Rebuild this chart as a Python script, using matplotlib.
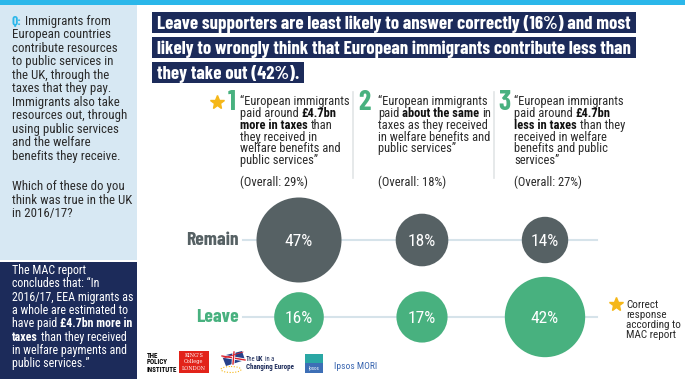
import matplotlib
matplotlib.use("Agg")
import matplotlib.pyplot as plt
from matplotlib.patches import Rectangle, Circle, Polygon, Ellipse

# ---------------- data ----------------
groups = ["Remain", "Leave"]
answers = ["1", "2", "3"]
correct_answer = 0                      # index of the answer marked with a star
overall = [29, 18, 27]                  # % of all respondents
remain = [47, 18, 14]                   # % of Remain supporters
leave = [16, 17, 42]                    # % of Leave supporters

title_lines = [
    "Leave supporters are least likely to answer correctly (16%) and most",
    "likely to wrongly think that European immigrants contribute less than",
    "they take out (42%).",
]

# (text, bold) segments per line
answer_text = [
    [[("“European immigrants", False)],
     [("paid around", False), ("£4.7bn", True)],
     [("more in taxes", True), ("than", False)],
     [("they received in", False)],
     [("welfare benefits and", False)],
     [("public services”", False)]],
    [[("“European immigrants", False)],
     [("paid", False), ("about the same", True), ("in", False)],
     [("taxes as they received", False)],
     [("in welfare benefits and", False)],
     [("public services”", False)]],
    [[("“European immigrants", False)],
     [("paid around", False), ("£4.7bn", True)],
     [("less in taxes", True), ("than they", False)],
     [("received in welfare", False)],
     [("benefits and public", False)],
     [("services”", False)]],
]

question_text = [
    [("Q:", "q"), ("Immigrants from", False)],
    [("European countries", False)],
    [("contribute resources", False)],
    [("to public services in", False)],
    [("the UK, through the", False)],
    [("taxes that they pay.", False)],
    [("Immigrants also take", False)],
    [("resources out, through", False)],
    [("using public services", False)],
    [("and the welfare", False)],
    [("benefits they receive.", False)],
]
question_text2 = [
    [("Which of these do you", False)],
    [("think was true in the UK", False)],
    [("in 2016/17?", False)],
]
mac_text = [
    [("The MAC report", False)],
    [("concludes that: “In", False)],
    [("2016/17, EEA migrants as", False)],
    [("a whole are estimated to", False)],
    [("have paid", False), ("£4.7bn more in", True)],
    [("taxes", True), ("than they received", False)],
    [("in welfare payments and", False)],
    [("public services.”", False)],
]
legend_lines = ["Correct", "response", "according to", "MAC report"]

# ---------------- style ----------------
FAM = ["Roboto Condensed", "Liberation Sans Narrow", "DejaVu Sans"]
HEAVY = ["Barlow Condensed", "Roboto Condensed", "DejaVu Sans"]
plt.rcParams["font.family"] = FAM
CYAN = "#2bb7ea"
PALE = "#d7e8f3"
NAVY = "#1c2b5a"
GREY = "#566164"
GREEN = "#48b17f"
GOLD = "#f5b719"
TXT = "#2b2b2b"
RULE = "#d6e3ea"

fig = plt.figure(figsize=(6.85, 3.79), dpi=100)
ax = fig.add_axes([0, 0, 1, 1])
ax.set_xlim(0, 685)
ax.set_ylim(379, 0)
ax.axis("off")
rend = fig.canvas.get_renderer()


def tw(t):
    return t.get_window_extent(renderer=rend).width


def space_w(size, weight="normal"):
    a = ax.text(0, 0, "n n", fontsize=size, fontweight=weight)
    b = ax.text(0, 0, "nn", fontsize=size, fontweight=weight)
    w = tw(a) - tw(b)
    a.remove()
    b.remove()
    return w


def rich(x, y, segs, size, color, bold_color=None, q_color=None):
    sp = space_w(size)
    for s, b in segs:
        if b == "q":
            t = ax.text(x, y, s, fontsize=size * 1.05, fontweight="bold", color=q_color,
                        va="baseline", family=HEAVY)
        elif b:
            t = ax.text(x, y, s, fontsize=size, fontweight="bold", color=bold_color or color,
                        va="baseline")
        else:
            t = ax.text(x, y, s, fontsize=size, color=color, va="baseline")
        x += tw(t) + sp


# ---------------- backgrounds ----------------
ax.add_patch(Rectangle((0, 0), 685, 5, color=CYAN, lw=0))
ax.add_patch(Rectangle((0, 5), 137, 254.5, color=PALE, lw=0))
ax.add_patch(Rectangle((0, 262), 137, 117, color=NAVY, lw=0))

# left panel text
for i, segs in enumerate(question_text):
    rich(12, 24.5 + 13.55 * i, segs, 9.3, TXT, q_color=CYAN)
for i, segs in enumerate(question_text2):
    rich(12, 190 + 13.55 * i, segs, 9.3, TXT)
for i, segs in enumerate(mac_text):
    rich(12, 274 + 13.35 * i, segs, 8.6, "white")

# ---------------- title ----------------
probe = ax.text(0, 0, title_lines[0], fontsize=12, fontweight="bold", family=HEAVY)
tsize = 12 * 472 / tw(probe)
probe.remove()
for i, line in enumerate(title_lines):
    yc = 22.5 + 25 * i
    t = ax.text(157, yc + 0.35 * tsize * 100 / 72, line, fontsize=tsize, fontweight="bold",
                color="white", va="baseline", zorder=3, family=HEAVY)
    w = tw(t)
    ax.add_patch(Rectangle((152, yc - 10.5), w + 10, 21, color=NAVY, lw=0, zorder=2))

# ---------------- answer headers ----------------
num_x = [232, 364, 504]
text_x = [240, 378, 514]
for k in range(len(answers)):
    ax.text(num_x[k], 110, answers[k], fontsize=20, fontweight="bold", color=GREEN,
            ha="center", va="baseline", family=HEAVY)
    for i, segs in enumerate(answer_text[k]):
        rich(text_x[k], 105.5 + 11.67 * i, segs, 9.0, TXT, bold_color="#111111")
    ax.text(text_x[k], 186, f"(Overall: {overall[k]}%)", fontsize=9.0, color=TXT, va="baseline")
ax.plot(num_x[correct_answer] - 15, 102, marker="*", ms=10, color=GOLD, mec=GOLD)
for x in [353, 494]:
    ax.plot([x, x], [92, 178], color="#e1e5e6", lw=1.2)

# ---------------- bubbles ----------------
bub_x = [299, 422, 545]
row_y = [240, 317]
row_col = [GREY, GREEN]
scale = 6.2  # px radius per sqrt(percent)
for g, vals in enumerate([remain, leave]):
    y = row_y[g]
    ax.plot([243, 597], [y, y], color=RULE, lw=1.5, zorder=1)
    ax.text(239, y + 5, groups[g], fontsize=14, fontweight="bold", color=row_col[g],
            ha="right", va="baseline", family=HEAVY)
    for k, v in enumerate(vals):
        ax.add_patch(Circle((bub_x[k], y), scale * v ** 0.5, color=row_col[g], lw=0, zorder=2))
        ax.text(bub_x[k], y + 6.2, f"{v}%", fontsize=12.5, color="white",
                ha="center", va="baseline", zorder=3)

# legend
ax.plot(616, 304, marker="*", ms=10, color=GOLD, mec=GOLD)
for i, s in enumerate(legend_lines):
    ax.text(626, 307.5 + 10 * i, s, fontsize=8.0, color=TXT, va="baseline")

# ---------------- logos ----------------
for i, s in enumerate(["THE", "POLICY", "INSTITUTE"]):
    ax.text(147, 357.5 + 7 * i, s, fontsize=5.0, fontweight="bold", color="black", va="baseline")
ax.add_patch(Rectangle((179, 351), 30, 22, color="#e2231a", lw=0))
for i, s in enumerate(["KING'S", "College", "LONDON"]):
    ax.text(194, 357 + 6.5 * i, s, fontsize=3.6, color="white", ha="center", va="baseline",
            family="DejaVu Serif")
ax.add_patch(Polygon([[222, 356], [242, 351], [245, 360], [226, 366]], color="#26408b", lw=0))
ax.plot([222, 245], [356, 360], color="white", lw=2.2)
ax.plot([222, 245], [356, 360], color="#d9232e", lw=1.0)
ax.plot([234, 233], [352, 364], color="white", lw=2.2)
ax.plot([234, 233], [352, 364], color="#d9232e", lw=1.0)
ax.plot([224, 243], [358, 352], color="#d9232e", lw=0.6)
ax.add_patch(Ellipse((231, 369.5), 20, 6, fill=False, ec=GOLD, lw=0.8, ls=(0, (1, 1.5))))
ax.text(246, 361, "The", fontsize=4.8, color=NAVY, va="baseline")
ax.text(256, 361, "UK", fontsize=4.8, fontweight="bold", color=NAVY, va="baseline")
ax.text(265, 361, "in a", fontsize=4.8, color=NAVY, va="baseline")
ax.text(246, 369, "Changing Europe", fontsize=5.0, fontweight="bold", color=NAVY, va="baseline")
ax.add_patch(Rectangle((305, 354), 18, 19, color="#3d6fb6", lw=0))
ax.add_patch(Rectangle((305, 354), 18, 9, color="#2aa7a4", lw=0))
ax.text(314, 370, "Ipsos", fontsize=3.6, color="white", ha="center", va="baseline")
ax.text(334, 369, "Ipsos MORI", fontsize=6.8, color="#3a66b0", va="baseline")

fig.savefig("out.png", dpi=100)
